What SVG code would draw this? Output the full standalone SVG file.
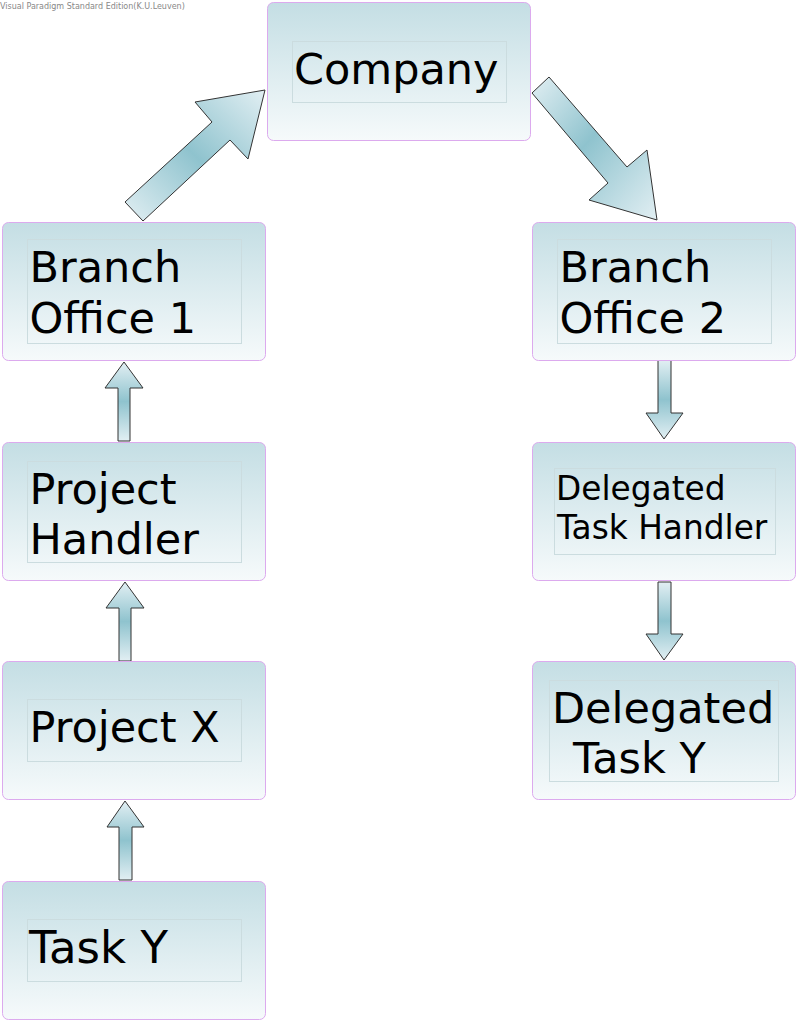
<svg xmlns="http://www.w3.org/2000/svg" width="800" height="1024" viewBox="0 0 800 1024">
<defs>
<linearGradient id="nodeFill" x1="0" y1="0" x2="0" y2="1">
<stop offset="0" stop-color="#c4dee4"/>
<stop offset="1" stop-color="#f6fafb"/>
</linearGradient>
<linearGradient id="arrV" x1="0" y1="0" x2="0" y2="1">
<stop offset="0" stop-color="#e2eff3"/>
<stop offset="0.5" stop-color="#8fc3ce"/>
<stop offset="1" stop-color="#e2eff3"/>
</linearGradient>
<linearGradient id="arrUR" x1="0" y1="1" x2="1" y2="0">
<stop offset="0" stop-color="#e2eff3"/>
<stop offset="0.5" stop-color="#8fc3ce"/>
<stop offset="1" stop-color="#e2eff3"/>
</linearGradient>
<linearGradient id="arrDR" x1="0" y1="0" x2="1" y2="1">
<stop offset="0" stop-color="#e2eff3"/>
<stop offset="0.45" stop-color="#8fc3ce"/>
<stop offset="1" stop-color="#e2eff3"/>
</linearGradient>
</defs>
<style>
.box{fill:url(#nodeFill);stroke:#dcaaee;stroke-width:1}
.inner{fill:none;stroke:#cbdcdf;stroke-width:1}
.lbl{font-family:"DejaVu Sans","Liberation Sans",sans-serif;font-size:43px;fill:#000}
.sm{font-size:32.8px}
.lg{font-size:45px}
.arr{stroke:#333;stroke-width:1;stroke-linejoin:miter}
.hdr{font-family:"DejaVu Sans","Liberation Sans",sans-serif;font-size:8px;fill:#888}
</style>
<rect width="800" height="1024" fill="#fff"/>
<text class="hdr" x="0" y="9">Visual Paradigm Standard Edition(K.U.Leuven)</text>

<g id="connectors">
<polygon class="arr" fill="url(#arrUR)" points="125,202 212,122 195,102 265,90 248,159 230,140 143,221"/>
<polygon class="arr" fill="url(#arrDR)" points="532,93 549,77 627,167 647,150 657,220 589,200 608,183"/>
<polygon class="arr" fill="url(#arrV)" points="124,362 143,388 130,388 130,441 118,441 118,388 105,388"/>
<polygon class="arr" fill="url(#arrV)" points="125,582 144,608 131,608 131,661 119,661 119,608 106,608"/>
<polygon class="arr" fill="url(#arrV)" points="125,801 144,827 132,827 132,880 119,880 119,827 107,827"/>
<polygon class="arr" fill="url(#arrV)" points="658,360 671,360 671,413 683,413 664,439 646,413 658,413"/>
<polygon class="arr" fill="url(#arrV)" points="658,582 671,582 671,634 683,634 664,660 646,634 658,634"/>
</g>

<g id="company">
<rect class="box" x="267.5" y="2.5" width="263" height="138" rx="6"/>
<rect class="inner" x="292.5" y="41.5" width="214" height="61"/>
<text class="lbl" x="294" y="84">Company</text>
</g>

<g id="branch-office-1">
<rect class="box" x="2.5" y="222.5" width="263" height="138" rx="6"/>
<rect class="inner" x="27.5" y="239.5" width="214" height="104"/>
<text class="lbl" x="29.5" y="282">Branch</text>
<text class="lbl" x="29.5" y="333">Office 1</text>
</g>

<g id="branch-office-2">
<rect class="box" x="532.5" y="222.5" width="263" height="138" rx="6"/>
<rect class="inner" x="557.5" y="239.5" width="214" height="104"/>
<text class="lbl" x="559.5" y="282">Branch</text>
<text class="lbl" x="559.5" y="333">Office 2</text>
</g>

<g id="project-handler">
<rect class="box" x="2.5" y="442.5" width="263" height="138" rx="6"/>
<rect class="inner" x="27.5" y="461.5" width="214" height="101"/>
<text class="lbl" x="29.5" y="504">Project</text>
<text class="lbl" x="29.5" y="554">Handler</text>
</g>

<g id="delegated-task-handler">
<rect class="box" x="532.5" y="442.5" width="263" height="138" rx="6"/>
<rect class="inner" x="554.5" y="468.5" width="221" height="86"/>
<text class="lbl sm" x="556" y="500">Delegated</text>
<text class="lbl sm" x="557" y="539">Task Handler</text>
</g>

<g id="project-x">
<rect class="box" x="2.5" y="661.5" width="263" height="138" rx="6"/>
<rect class="inner" x="27.5" y="699.5" width="214" height="62"/>
<text class="lbl" x="29.5" y="742">Project X</text>
</g>

<g id="delegated-task-y">
<rect class="box" x="532.5" y="661.5" width="263" height="138" rx="6"/>
<rect class="inner" x="549.5" y="680.5" width="229" height="101"/>
<text class="lbl" x="552" y="723">Delegated</text>
<text class="lbl" x="573" y="773">Task Y</text>
</g>

<g id="task-y">
<rect class="box" x="2.5" y="881.5" width="263" height="138" rx="6"/>
<rect class="inner" x="27.5" y="919.5" width="214" height="62"/>
<text class="lbl lg" x="29" y="963">Task Y</text>
</g>
</svg>
